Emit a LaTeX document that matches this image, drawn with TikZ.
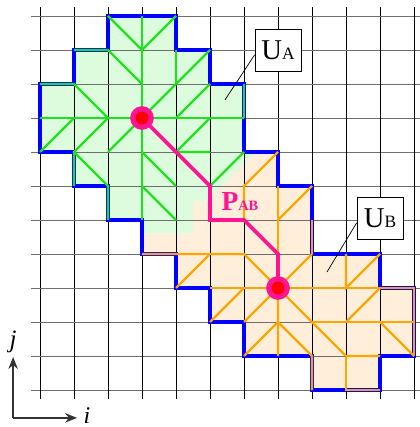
\documentclass[tikz,border=0pt]{standalone}
\usepackage{fontspec}
\setmainfont{Liberation Serif}
\usepackage{xcolor}
\usepackage{tikz}
\usetikzlibrary{arrows.meta}
\definecolor{boundblue}{RGB}{0,0,255}
\definecolor{greenline}{RGB}{30,225,30}
\definecolor{greenfill}{RGB}{221,252,221}
\definecolor{orangeline}{RGB}{255,165,0}
\definecolor{orangefill}{RGB}{255,238,218}
\definecolor{pathpink}{RGB}{255,20,147}
\definecolor{gridgray}{RGB}{110,110,110}

\tikzset{
  greenedge/.style={greenline, line width=2pt},
  orangeedge/.style={orangeline, line width=2pt},
  labelbox/.style={draw, fill=white, line width=0.6pt, minimum width=1.35cm,
    minimum height=1.24cm, inner sep=0pt},
  axisarrow/.style={-{Stealth[length=10pt,width=8pt]}, black!80, line width=1.1pt},
}

\begin{document}
\begin{tikzpicture}
\useasboundingbox (-1.176,-1.088) rectangle (11.176,11.47);
% regions
\fill[greenfill] (2,11) -- (4,11) -- (4,10) -- (5,10) -- (5,9) -- (6,9) -- (6,7)
  -- (6.35,7) -- (4.9,5.55) -- (4.5,5.55) -- (4.5,4.6) -- (3,4.6) -- (3,5) -- (2,5)
  -- (2,6) -- (1,6) -- (1,7) -- (0,7) -- (0,9) -- (1,9) -- (1,10) -- (2,10) -- cycle;
\fill[orangefill] (6.35,7) -- (7,7) -- (7,6) -- (8,6) -- (8,4) -- (10,4) -- (10,3)
  -- (11,3) -- (11,1) -- (10,1) -- (10,0) -- (8,0) -- (8,1) -- (6,1) -- (6,2) -- (5,2)
  -- (5,3) -- (4,3) -- (4,4) -- (3,4) -- (3,4.6) -- (4.5,4.6) -- (4.5,5.55)
  -- (4.9,5.55) -- cycle;
% grid
\foreach \k in {0,...,11} {
  \draw[gridgray, line width=0.7pt] (-0.26,\k) -- (11.176,\k);
  \draw[black, line width=0.7pt] (\k,-0.26) -- (\k,11.26);
}
% outline of both regions
\draw[boundblue, line width=3.4pt] (2,11) -- (4,11) -- (4,10) -- (5,10) -- (5,9)
  -- (6,9) -- (6,7) -- (7,7) -- (7,6) -- (8,6) -- (8,4) -- (10,4) -- (10,3) -- (11,3)
  -- (11,1) -- (10,1) -- (10,0) -- (8,0) -- (8,1) -- (6,1) -- (6,2) -- (5,2) -- (5,3)
  -- (4,3) -- (4,4) -- (3,4) -- (3,5) -- (2,5) -- (2,6) -- (1,6) -- (1,7) -- (0,7)
  -- (0,9) -- (1,9) -- (1,10) -- (2,10) -- cycle;
% links of U_A
\draw[greenedge] (3,11) -- (3,5);
\draw[greenedge] (0,8) -- (6,8);
\draw[greenedge] (2,11) -- (3,10) -- (4,11);
\draw[greenedge] (1,10) -- (2,10) -- (3,9);
\draw[greenedge] (4,10) -- (4,9);
\draw[greenedge] (3,8) -- (5,10);
\draw[greenedge] (0,9) -- (1,9) -- (2,8);
\draw[greenedge] (4,8) -- (5,9);
\draw[greenedge] (6,9) -- (6,8);
\draw[greenedge] (0,7) -- (1,8);
\draw[greenedge] (1,6) -- (1,7) -- (2,8);
\draw[greenedge] (2,7) -- (3,8);
\draw[greenedge] (1,7) -- (2,6) -- (2,5);
\draw[greenedge] (3,7) -- (4,6);
\draw[greenedge] (3,6) -- (4,5);
\draw[greenedge] (5,8) -- (4,7) -- (5,7);
\draw[greenedge] (5,6) -- (6,7);
% links of U_B
\draw[orangeedge] (7,3) -- (7,6);
\draw[orangeedge] (6,5) -- (6,6) -- (7,7);
\draw[orangeedge] (7,5) -- (8,6);
\draw[orangeedge] (8,4) -- (8,5);
\draw[orangeedge] (3,4) -- (6,4) -- (7,3) -- (8,4);
\draw[orangeedge] (9,4) -- (9,3) -- (10,4);
\draw[orangeedge] (5,3) -- (11,3) -- (11,1);
\draw[orangeedge] (4,3) -- (5,4);
\draw[orangeedge] (5,2) -- (6,3);
\draw[orangeedge] (6,2) -- (7,3) -- (7,1);
\draw[orangeedge] (6,1) -- (7,2) -- (8,1) -- (8,0);
\draw[orangeedge] (7,3) -- (9,1) -- (10,1);
\draw[orangeedge] (9,1) -- (9,0) -- (10,0);
\draw[orangeedge] (8,2) -- (11,2);
\draw[orangeedge] (9,2) -- (10,3);
\draw[orangeedge] (10,2) -- (11,1);
% path from A to B
\coordinate (ca) at (3,8);
\coordinate (cb) at (7,3);
\draw[pathpink, line width=3pt] (ca) -- (5,6) -- (5,5) -- (6,5) -- (7,4) -- (cb);
\filldraw[pathpink] (ca) circle (0.34);
\fill[red] (ca) circle (0.19);
\filldraw[pathpink] (cb) circle (0.34);
\fill[red] (cb) circle (0.19);
\node[pathpink, font=\bfseries] (pab) at (5.88,5.53)
  {\fontsize{23}{23}\selectfont P\fontsize{12}{12}\selectfont AB};
% labels
\node[labelbox] (ua) at (7.0,10.0) {\fontsize{24}{24}\selectfont U\fontsize{14.5}{14.5}\selectfont A};
\node[labelbox] (ub) at (10.0,5.06) {\fontsize{24}{24}\selectfont U\fontsize{14.5}{14.5}\selectfont B};
\coordinate (pa) at (5.44,8.53);
\coordinate (pb) at (8.44,3.47);
\draw[line width=0.6pt] ([yshift=-4pt]ua.west) -- (pa);
\draw[line width=0.6pt] ([yshift=-4pt]ub.west) -- (pb);
% axes
\coordinate (o) at (-0.79,-0.82);
\draw[axisarrow] (o) -- (1.09,-0.82) coordinate (ie);
\draw[axisarrow] (o) -- (-0.79,0.97) coordinate (je);
\node[inner sep=0pt] (il) at (1.38,-0.74) {\fontsize{20}{20}\selectfont\itshape i};
\node[inner sep=0pt] (jl) at (-0.79,1.41) {\fontsize{21}{21}\selectfont\itshape j};
\end{tikzpicture}
\end{document}
